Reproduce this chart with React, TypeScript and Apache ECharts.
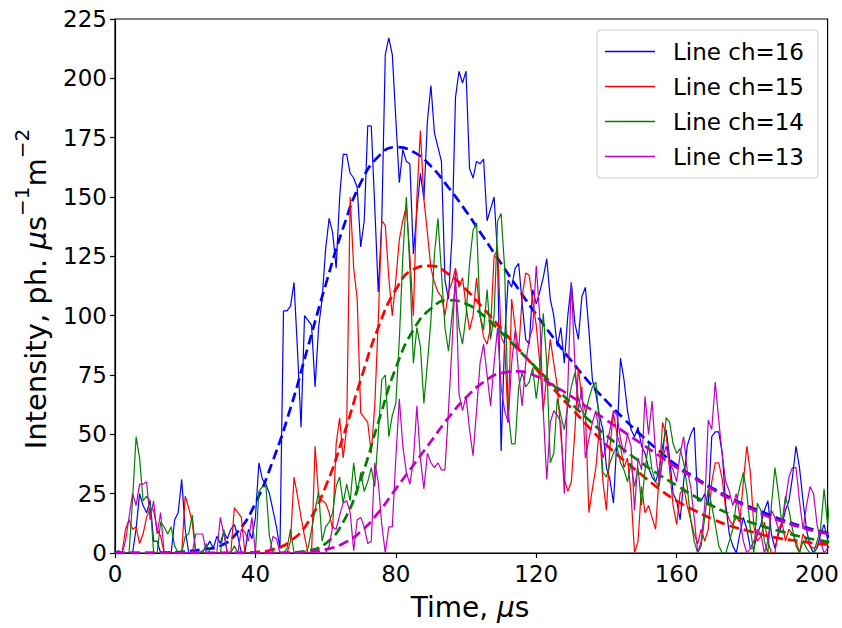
import { useEffect, useRef } from "react";
import * as echarts from "echarts";

// Measured intensities, one value per microsecond starting at t = 0
const ch16 = [
  0, 1, 0, 0, 0, 0, 10, 25, 20, 17,
  22, 5, 5, 0, 0, 0, 0, 14, 17, 31,
  10, 0, 0, 0, 0, 1, 2, 5, 2, 7,
  4, 9, 6, 10, 12, 7, 0, 0, 10, 6,
  15, 38, 31, 29, 25, 18, 11, 2, 102, 102,
  104, 114, 85, 53, 100, 98, 96, 70, 95, 107,
  128, 141, 135, 120, 150, 168, 168, 160, 158, 154,
  129, 140, 180, 180, 146, 110, 140, 210, 217, 210,
  183, 156, 170, 165, 164, 126, 144, 160, 149, 182,
  197, 177, 171, 165, 115, 107, 133, 192, 203, 198,
  203, 162, 158, 165, 164, 166, 140, 145, 150, 125,
  43, 90, 115, 112, 120, 122, 105, 90, 88, 111,
  105, 110, 116, 124, 107, 100, 87, 95, 80, 100,
  114, 97, 90, 108, 112, 94, 73, 67, 58, 52,
  36, 31, 21, 48, 82, 73, 60, 52, 49, 53,
  45, 42, 36, 32, 30, 35, 45, 52, 40, 25,
  22, 14, 30, 45, 50, 53, 22, 22, 25, 20,
  49, 51, 51, 42, 20, 8, 3, 0, 8, 15,
  10, 2, 2, 8, 12, 18, 22, 8, 2, 8,
  12, 18, 22, 32, 45, 36, 22, 10, 3, 0,
  2, 8, 12, 6, 10,
];
const ch15 = [
  0, 0, 0, 10, 14, 10, 11, 4, 8, 15,
  19, 18, 10, 7, 0, 0, 0, 0, 0, 0,
  24, 19, 13, 0, 0, 0, 0, 0, 0, 0,
  0, 0, 0, 0, 19, 17, 15, 0, 0, 0,
  0, 0, 0, 0, 0, 0, 0, 0, 0, 0,
  5, 32, 24, 15, 7, 0, 0, 45, 24, 22,
  21, 17, 10, 46, 57, 40, 53, 150, 120, 107,
  59, 57, 55, 42, 62, 98, 140, 138, 116, 100,
  115, 132, 140, 146, 125, 100, 150, 178, 149, 135,
  120, 114, 110, 108, 100, 110, 114, 120, 112, 116,
  104, 94, 100, 116, 100, 91, 88, 95, 125, 128,
  91, 88, 55, 107, 95, 85, 108, 118, 117, 106,
  96, 80, 60, 75, 90, 80, 70, 50, 31, 26,
  30, 51, 78, 65, 60, 17, 27, 36, 53, 30,
  18, 45, 59, 50, 45, 36, 40, 25, 0, 5,
  28, 17, 20, 15, 10, 32, 55, 50, 35, 20,
  12, 25, 28, 20, 14, 8, 4, 10, 5, 10,
  30, 38, 38, 31, 18, 14, 12, 15, 13, 30,
  45, 34, 11, 5, 7, 13, 5, 0, 0, 10,
  13, 5, 10, 8, 5, 0, 8, 5, 3, 2,
  3, 4, 5, 3, 2,
];
const ch14 = [
  0, 0, 0, 0, 0, 22, 49, 40, 22, 24,
  22, 0, 0, 13, 11, 8, 11, 3, 0, 0,
  7, 8, 16, 0, 0, 0, 4, 0, 0, 0,
  0, 10, 0, 0, 3, 0, 0, 0, 0, 0,
  0, 26, 28, 28, 7, 0, 0, 0, 0, 2,
  10, 0, 0, 0, 0, 2, 10, 18, 26, 5,
  11, 13, 17, 28, 32, 21, 29, 22, 38, 25,
  34, 26, 30, 36, 28, 50, 73, 75, 49, 58,
  63, 90, 125, 150, 120, 80, 95, 87, 63, 80,
  98, 126, 141, 118, 95, 85, 100, 113, 95, 88,
  100, 122, 136, 139, 100, 94, 111, 90, 100, 140,
  143, 120, 60, 46, 46, 70, 76, 70, 72, 78,
  65, 77, 101, 80, 38, 42, 65, 58, 52, 62,
  70, 76, 65, 60, 58, 65, 70, 72, 55, 34,
  32, 38, 42, 45, 38, 35, 30, 38, 28, 36,
  20, 35, 46, 35, 30, 28, 40, 57, 55, 46,
  42, 44, 38, 28, 14, 5, 0, 3, 15, 27,
  20, 12, 3, 0, 0, 5, 10, 21, 28, 34,
  25, 10, 0, 21, 18, 5, 0, 20, 36, 25,
  12, 24, 18, 10, 3, 0, 5, 2, 0, 0,
  5, 10, 27, 12, 28,
];
const ch13 = [
  0, 0, 0, 5, 15, 25, 20, 29, 29, 30,
  14, 22, 8, 17, 0, 0, 0, 0, 0, 0,
  0, 0, 0, 8, 8, 8, 0, 0, 0, 0,
  15, 8, 0, 0, 0, 0, 10, 9, 5, 15,
  0, 0, 0, 0, 0, 7, 6, 0, 0, 0,
  0, 0, 0, 0, 0, 0, 0, 0, 0, 0,
  0, 3, 11, 10, 16, 21, 22, 17, 1, 14,
  15, 11, 4, 5, 38, 30, 12, 0, 11, 11,
  40, 65, 45, 34, 29, 39, 62, 40, 27, 42,
  38, 36, 38, 35, 35, 60, 87, 119, 67, 60,
  66, 52, 41, 60, 80, 88, 75, 62, 80, 95,
  70, 60, 55, 80, 94, 75, 62, 80, 90, 95,
  121, 100, 60, 31, 55, 60, 58, 55, 25, 70,
  114, 80, 60, 70, 40, 48, 55, 60, 50, 40,
  45, 52, 60, 58, 48, 42, 50, 45, 18, 40,
  35, 66, 50, 64, 42, 30, 40, 45, 38, 35,
  30, 42, 49, 35, 28, 15, 0, 5, 20, 56,
  52, 72, 56, 41, 30, 26, 20, 25, 15, 5,
  0, 2, 5, 10, 8, 0, 5, 18, 15, 10,
  12, 22, 32, 36, 36, 22, 10, 20, 28, 25,
  12, 5, 0, 2, 3,
];

// Fitted curves, read at these times
const fitTimes = [
  0, 5, 10, 15, 20, 25, 30, 35, 40, 45, 50, 55, 60, 65, 70, 75, 80, 85, 90, 95, 100,
  105, 110, 115, 120, 125, 130, 135, 140, 145, 150, 155, 160, 165, 170, 175, 180, 185,
  190, 195, 200, 204,
];
const fit16 = [
  0, 0, 0, 0.2, 0.6, 1.5, 3, 9, 21, 39, 61, 87, 113, 137, 156, 167, 171, 169, 163, 154, 144,
  133, 122, 111, 100.5, 90.5, 81, 72, 64, 56.5, 49.5, 43, 37, 32, 27.5, 23.5, 20, 17,
  14, 11.5, 9.5, 8,
];
const fit15 = [
  0, 0, 0, 0, 0, 0, 0, 0, 0.4, 1.5, 5, 13, 28, 49, 73, 95, 111, 119.5, 121, 117.5, 111,
  103, 94.5, 86, 77.5, 69, 61, 53, 45.5, 39, 33, 27, 22, 18, 14.5, 11.5, 9.5, 7.5,
  6, 5, 4, 3.5,
];
const fit14 = [
  0, 0, 0, 0, 0, 0, 0, 0, 0, 0, 0.2, 1, 4, 13, 31, 55, 78, 94, 103, 106.5, 105,
  100, 93, 85.5, 78, 70.5, 63, 56, 49.5, 43.5, 38, 33, 28.5, 24, 20, 16.5, 13.5, 11,
  9, 7, 5.5, 4.5,
];
const fit13 = [
  0, 0, 0, 0, 0, 0, 0, 0, 0, 0, 0.1, 0.5, 1.5, 4, 9, 17, 27, 37, 47, 57, 65.5,
  72, 75.8, 76.5, 74.5, 70.5, 66, 61, 56, 51, 46, 41, 36, 31.5, 27, 23, 19.5, 16,
  13.3, 11, 9, 7.8,
];

const xTicks = [0, 40, 80, 120, 160, 200];
const channels = [
  { name: "Line ch=16", color: "#0000ff", data: ch16, fit: fit16 },
  { name: "Line ch=15", color: "#ff0000", data: ch15, fit: fit15 },
  { name: "Line ch=14", color: "#008000", data: ch14, fit: fit14 },
  { name: "Line ch=13", color: "#bf00bf", data: ch13, fit: fit13 },
];

const FONT = "DejaVu Sans";

export default function App() {
  const ref = useRef<HTMLDivElement>(null);
  useEffect(() => {
    const chart = echarts.init(ref.current!, null, { renderer: "svg" });
    const series: any[] = [];
    channels.forEach((c) => {
      series.push({
        name: c.name,
        type: "line",
        data: c.data.map((v, i) => [i, v]),
        showSymbol: false,
        symbol: "none",
        lineStyle: { color: c.color, width: 1.2 },
        itemStyle: { color: c.color },
        emphasis: { disabled: true },
      });
      series.push({
        name: c.name.replace("Line", "Fit"),
        type: "line",
        data: c.fit.map((v, i) => [fitTimes[i], v]),
        showSymbol: false,
        symbol: "none",
        smooth: 0.5,
        lineStyle: { color: c.color, width: 2.7, type: [10, 5] },
        itemStyle: { color: c.color },
        emphasis: { disabled: true },
      });
    });

    chart.setOption({
      animation: false,
      backgroundColor: "#ffffff",
      grid: {
        left: 115,
        right: 9,
        top: 19,
        bottom: 75,
        show: true,
        borderColor: "#000",
        borderWidth: 1.2,
        backgroundColor: "transparent",
      },
      legend: {
        orient: "vertical",
        left: 597,
        top: 30,
        data: channels.map((c) => ({ name: c.name, icon: "rect" })),
        itemWidth: 50,
        itemHeight: 1.6,
        itemGap: 10,
        padding: [9, 14, 9, 8],
        backgroundColor: "rgba(255,255,255,0.8)",
        borderColor: "#cccccc",
        borderWidth: 1,
        borderRadius: 4,
        selectedMode: false,
        textStyle: {
          fontFamily: FONT,
          fontSize: 23,
          color: "#000",
          lineHeight: 25,
          padding: [0, 0, 0, 13],
        },
      },
      xAxis: {
        type: "value",
        min: 0,
        max: 203,
        interval: 40,
        splitLine: { show: false },
        axisLine: { show: true, onZero: false, lineStyle: { color: "#000", width: 1.2 } },
        axisTick: { show: true, length: 5, customValues: xTicks, lineStyle: { color: "#000", width: 1.2 } },
        axisLabel: {
          customValues: xTicks,
          fontFamily: FONT,
          fontSize: 23,
          color: "#000",
          margin: 9,
        },
      },
      yAxis: {
        type: "value",
        min: 0,
        max: 225,
        interval: 25,
        splitLine: { show: false },
        axisLine: { show: true, lineStyle: { color: "#000", width: 1.2 } },
        axisTick: { show: true, length: 5, lineStyle: { color: "#000", width: 1.2 } },
        axisLabel: { fontFamily: FONT, fontSize: 23, color: "#000", margin: 8 },
      },
      graphic: [
        {
          type: "text",
          x: 470,
          y: 607,
          style: {
            text: "{n|Time, }{i|μ}{n|s}",
            align: "center",
            verticalAlign: "middle",
            rich: {
              n: { fontFamily: FONT, fontSize: 28, fill: "#000" },
              i: { fontFamily: FONT, fontSize: 28, fontStyle: "italic", fill: "#000" },
            },
          },
        },
        {
          type: "text",
          x: 31,
          y: 289,
          rotation: Math.PI / 2,
          style: {
            text: "{n|Intensity, ph. }{i|μ}{n|s}{s|−1}{n|m}{s|−2}",
            align: "center",
            verticalAlign: "middle",
            rich: {
              n: { fontFamily: FONT, fontSize: 29, fill: "#000", lineHeight: 38, verticalAlign: "bottom" },
              i: { fontFamily: FONT, fontSize: 29, fontStyle: "italic", fill: "#000", lineHeight: 38, verticalAlign: "bottom" },
              s: { fontFamily: FONT, fontSize: 20, fill: "#000", lineHeight: 20, verticalAlign: "top" },
            },
          },
        },
      ],
      series,
    });
    return () => chart.dispose();
  }, []);
  return (
    <div
      ref={ref}
      style={{ position: "fixed", left: 0, top: 0, width: 842, height: 628, background: "#fff" }}
    />
  );
}
